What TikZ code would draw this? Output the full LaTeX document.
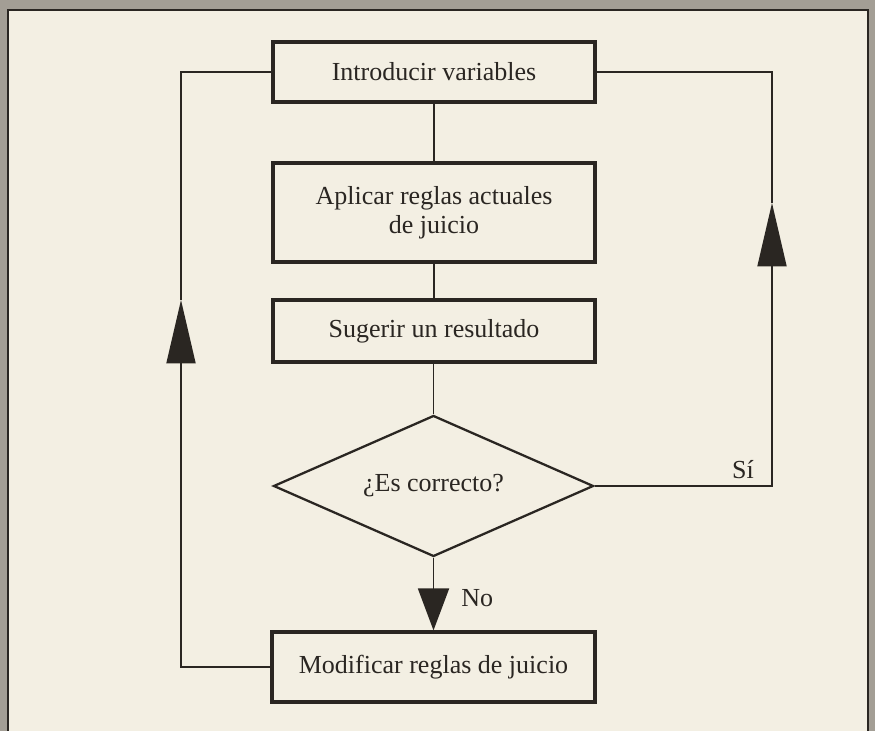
\documentclass[tikz,border=0pt]{standalone}
\usepackage{fontspec}
\setmainfont{Liberation Serif}
\usetikzlibrary{shapes, arrows.meta}

\definecolor{paper}{HTML}{F3EFE3}
\definecolor{scan}{HTML}{A39E95}
\definecolor{ink}{HTML}{2A2622}

\begin{document}
\begin{tikzpicture}[
	font=\fontsize{14.8}{16.5}\selectfont,
	box/.style={draw=ink, line width=1.8pt, minimum width=6.44cm, text=ink, align=center, inner sep=2pt},
	decision/.style={diamond, draw=ink, line width=1.3pt, minimum width=6.4cm, minimum height=2.82cm, aspect=2.27, inner sep=0pt, text=ink},
	link/.style={draw=ink, line width=1.1pt},
	bigtip/.style={-{Triangle[length=1.27cm, width=0.58cm]}},
	]
	% page of the scan
	\fill[scan] (0,0) rectangle (17.5,14.62);
	\fill[paper] (0.16,0) rectangle (17.36,14.42);
	\draw[ink, line width=1.2pt] (0.16,0) -- (0.16,14.42) -- (17.36,14.42) -- (17.36,0);
	\useasboundingbox (0,0) rectangle (17.5,14.62);

	\node[box, minimum height=1.2cm] (vars) at (8.68, 13.18) {Introducir variables};
	\node[box, minimum height=1.98cm] (rules) at (8.68, 10.37) {Aplicar reglas actuales\\de juicio};
	\node[box, minimum height=1.24cm] (result) at (8.68, 8.0) {Sugerir un resultado};
	\node[decision] (check) at (8.67, 4.9) {¿Es correcto?};
	\node[box, minimum height=1.4cm, minimum width=6.46cm] (modify) at (8.67, 1.28) {Modificar reglas de juicio};

	\coordinate (tipL) at (3.62, 8.62);
	\coordinate (tipR) at (15.44, 10.56);

	\draw[link] (vars) -- (rules);
	\draw[link] (rules) -- (result);
	\draw[link] (result.south -| check.north) -- (check.north);
	\draw[link, -{Triangle[length=0.84cm, width=0.62cm]}] (check.south) -- (modify.north -| check.south)
		node[pos=0.55, right=12pt, text=ink] {No};
	% loop back when the answer is no
	\draw[link, bigtip] (modify.west) -| (tipL);
	\draw[link] (tipL) |- (vars.west);
	% loop back when the answer is yes
	\draw[link, bigtip] (check.east) -| (tipR);
	\draw[link] (tipR) |- (vars.east);
	\node[text=ink] (yes) at (14.86, 5.22) {Sí};
\end{tikzpicture}
\end{document}
